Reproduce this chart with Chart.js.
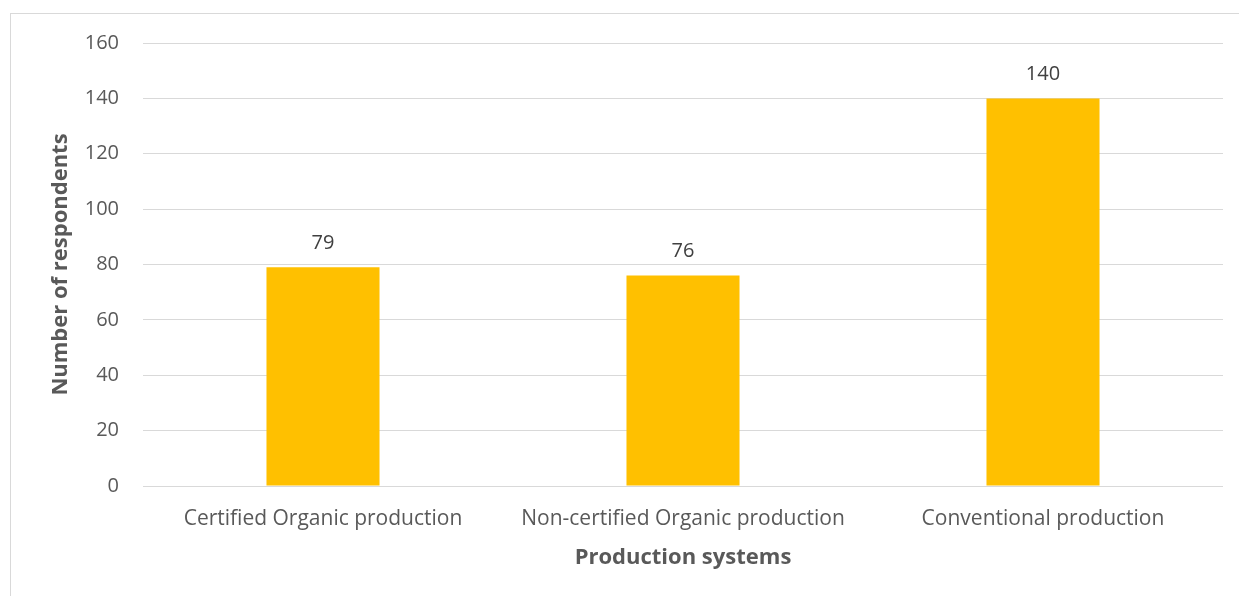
<!DOCTYPE html>
<html>
<head>
<meta charset="utf-8">
<script src="https://cdn.jsdelivr.net/npm/chart.js@4.4.0/dist/chart.umd.min.js"></script>
<style>
  html, body { margin: 0; padding: 0; background: #fff; overflow: hidden; }
  #frame { position: absolute; left: 10px; top: 13px; width: 1300px; height: 700px; border: 1px solid #d9d9d9; }
  #wrap { position: absolute; left: 0; top: 0; width: 1239px; height: 596px; }
</style>
</head>
<body>
<div id="frame"></div>
<div id="wrap"><canvas id="chart"></canvas></div>
<script>
// chart data
const categories = ['Certified Organic production', 'Non-certified Organic production', 'Conventional production'];
const respondents = [79, 76, 140];
const yTicks = [0, 20, 40, 60, 80, 100, 120, 140, 160];

const fontFamily = '"Open Sans", sans-serif';

// draws the value above each bar
const barLabels = {
    id: 'barLabels',
    afterDatasetsDraw(chart) {
        const ctx = chart.ctx;
        const meta = chart.getDatasetMeta(0);
        ctx.save();
        ctx.font = '20px ' + fontFamily;
        ctx.fillStyle = '#404040';
        ctx.textAlign = 'center';
        ctx.textBaseline = 'bottom';
        meta.data.forEach((bar, i) => {
            ctx.fillText(respondents[i], bar.x, bar.y - 14);
        });
        ctx.restore();
    }
};

new Chart(document.getElementById('chart'), {
    type: 'bar',
    data: {
        labels: categories,
        datasets: [{
            data: respondents,
            backgroundColor: '#FFC000',
            categoryPercentage: 1,
            barPercentage: 0.314
        }]
    },
    options: {
        responsive: true,
        maintainAspectRatio: false,
        animation: false,
        layout: { padding: { left: 0, right: 16, top: 43, bottom: 0 } },
        plugins: {
            legend: { display: false },
            tooltip: { enabled: false }
        },
        scales: {
            x: {
                grid: { display: false, drawTicks: false },
                border: { display: false },
                ticks: {
                    color: '#595959',
                    padding: 20,
                    font: { family: fontFamily, size: 21 }
                },
                title: {
                    display: true,
                    text: 'Production systems',
                    color: '#595959',
                    font: { family: fontFamily, size: 22, weight: 'bold' },
                    padding: { top: 0, bottom: 25 }
                },
                afterFit(scale) { scale.height = 110; }
            },
            y: {
                min: 0,
                max: 160,
                afterBuildTicks(scale) { scale.ticks = yTicks.map(v => ({ value: v })); },
                grid: { color: '#d9d9d9', lineWidth: 1, drawTicks: false },
                border: { display: false },
                ticks: {
                    color: '#595959',
                    padding: 24,
                    font: { family: fontFamily, size: 20 }
                },
                title: {
                    display: true,
                    text: 'Number of respondents',
                    color: '#595959',
                    font: { family: fontFamily, size: 22, weight: 'bold' },
                    padding: { top: 48, bottom: 0 }
                },
                afterFit(scale) { scale.width = 143; }
            }
        }
    },
    plugins: [barLabels]
});
</script>
</body>
</html>
